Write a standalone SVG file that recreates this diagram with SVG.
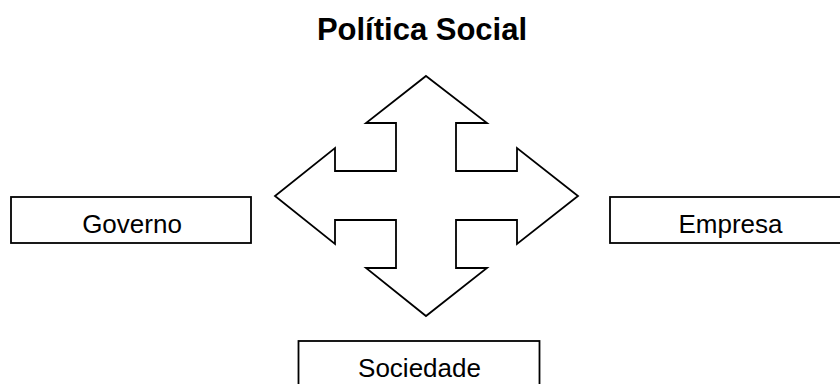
<svg xmlns="http://www.w3.org/2000/svg" width="840" height="384" viewBox="0 0 840 384">
<style>
.box{fill:#fff;stroke:#000;stroke-width:1.8}
.lbl{font-family:"Liberation Sans",Arial,sans-serif;font-size:26px;fill:#000;text-anchor:middle}
.title{font-family:"Liberation Sans",Arial,sans-serif;font-size:31px;font-weight:bold;fill:#000;text-anchor:middle}
.arrow{fill:#fff;stroke:#000;stroke-width:1.8;stroke-linejoin:miter}
</style>
<rect width="840" height="384" fill="#fff"/>
<g id="title"><text class="title" x="422" y="40">Política Social</text></g>
<g id="connectors">
<polygon class="arrow" points="426,76 487,123 456,123 456,171 517,171 517,148 578,196 517,244 517,220 456,220 456,268 487,268 426,316 366,268 396,268 396,220 335,220 335,244 275,196 335,148 335,171 396,171 396,123 366,123"/>
</g>
<g id="governo"><rect class="box" x="11" y="197" width="240" height="46"/><text class="lbl" x="132" y="233">Governo</text></g>
<g id="empresa"><rect class="box" x="610" y="197" width="240" height="46"/><text class="lbl" x="730.5" y="233">Empresa</text></g>
<g id="sociedade"><rect class="box" x="298.5" y="341" width="241" height="46"/><text class="lbl" x="419.5" y="377">Sociedade</text></g>
</svg>
